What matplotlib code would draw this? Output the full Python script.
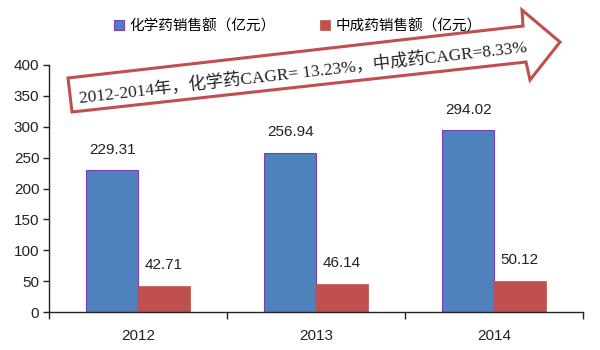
import numpy as np
import matplotlib
matplotlib.use('Agg')
from matplotlib import pyplot as plt
from matplotlib.patches import Polygon

plt.rcParams['font.family'] = ['Liberation Sans', 'Noto Sans CJK SC', 'DejaVu Sans']

years = ['2012', '2013', '2014']
chem_sales = [229.31, 256.94, 294.02]
tcm_sales = [42.71, 46.14, 50.12]
series_names = ['化学药销售额（亿元）', '中成药销售额（亿元）']
note = '2012-2014年，化学药CAGR= 13.23%，中成药CAGR=8.33%'

blue = '#4F81BD'
red = '#C0504D'

W, H = 600, 350
fig = plt.figure(figsize=(6, 3.5), dpi=100)
ax = fig.add_axes([49 / W, 1 - 312 / H, (583 - 49) / W, (312 - 65) / H])

x = np.arange(len(years))
bw = 0.29
b1 = ax.bar(x - bw / 2, chem_sales, bw, color=blue, edgecolor='#7A3FB8', linewidth=0.8,
            label=series_names[0])
b2 = ax.bar(x + bw / 2, tcm_sales, bw, color=red, edgecolor=red, linewidth=0.5,
            label=series_names[1])

for bars, vals in ((b1, chem_sales), (b2, tcm_sales)):
    for rect, v in zip(bars, vals):
        ax.annotate('%.2f' % v, (rect.get_x() + rect.get_width() / 2, v),
                    xytext=(0, 10), textcoords='offset points',
                    ha='center', va='bottom', fontsize=11, color='#222222')

ax.set_xlim(-0.5, 2.5)
ax.set_ylim(0, 400)
ax.set_yticks(range(0, 401, 50))
ax.set_xticks([-0.5, 0.5, 1.5, 2.5])
ax.set_xticklabels([])
ax.set_xticks(x, minor=True)
ax.set_xticklabels(years, minor=True)
ax.tick_params(axis='x', which='major', direction='out', length=5, width=1, color='#222222')
ax.tick_params(axis='x', which='minor', length=0, pad=12, labelsize=11, labelcolor='#222222')
ax.tick_params(axis='y', direction='out', length=4, width=1, color='#222222',
               labelsize=11, labelcolor='#222222', pad=3)
for s in ('top', 'right'):
    ax.spines[s].set_visible(False)
for s in ('left', 'bottom'):
    ax.spines[s].set_color('#222222')
    ax.spines[s].set_linewidth(1)

fig.legend(handles=[b1, b2], loc='center', bbox_to_anchor=(298 / W, 1 - 26 / H),
           ncol=2, frameon=False, fontsize=10.5, handlelength=0.7, handleheight=0.7,
           handletextpad=0.4, columnspacing=3.0)

# big outlined arrow with the CAGR note
pts = [(68, 78), (523, 26), (522, 10), (560, 42), (530, 80), (526, 62), (72, 112)]
arrow = Polygon([(px / W, 1 - py / H) for px, py in pts], closed=True,
                transform=fig.transFigure, facecolor='white', edgecolor='#C0504D',
                linewidth=2.2, zorder=5)
fig.patches.append(arrow)
fig.text(303 / W, 1 - 73 / H, note, rotation=6.5, ha='center', va='center',
         rotation_mode='anchor', fontsize=12.5, color='#222222',
         family=['Liberation Serif', 'Noto Sans CJK SC'], zorder=6)

fig.savefig('out.png', dpi=100)
